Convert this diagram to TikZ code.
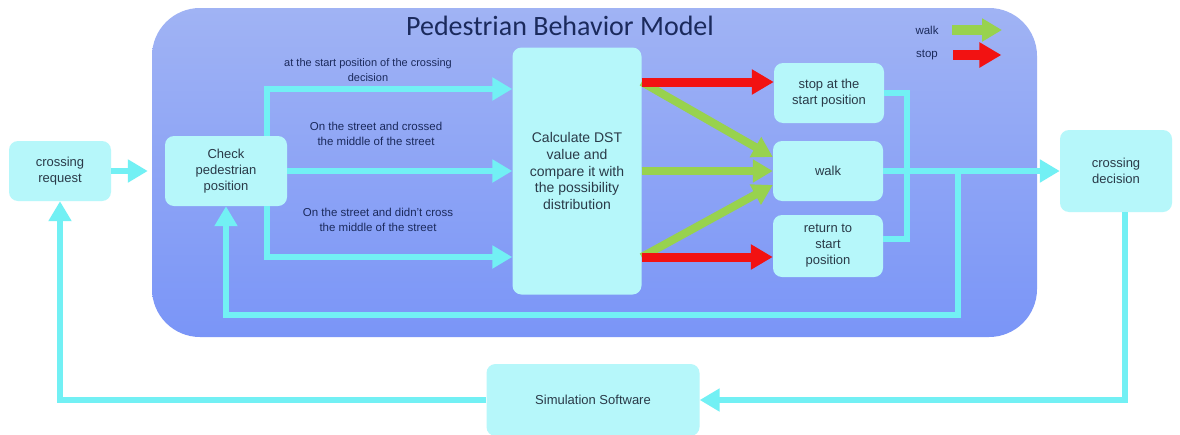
\documentclass[tikz,border=0pt]{standalone}
\usepackage{fontspec}
\setmainfont{Liberation Sans}
\newfontfamily\titlefont{Carlito}
\usepackage{tikz}
\usetikzlibrary{arrows.meta,positioning}
\definecolor{PBMcyan}{HTML}{B6F7FA}
\definecolor{PBMline}{HTML}{72F0F4}
\definecolor{PBMtop}{HTML}{A0B3F4}
\definecolor{PBMbottom}{HTML}{7A95F7}
\definecolor{PBMgreen}{HTML}{98D24E}
\definecolor{PBMred}{HTML}{F21212}
\definecolor{PBMnavy}{HTML}{1B2A5C}
\definecolor{PBMtext}{HTML}{2A3A48}

\begin{document}
\begin{tikzpicture}[x=1pt,y=-1pt,
    block/.style={rectangle,fill=PBMcyan,rounded corners=9pt,align=center,
                  text=PBMtext,font=\fontsize{13}{16}\selectfont,inner sep=2pt},
    arr/.style={PBMline,line width=6pt,-{Triangle[width=22pt,length=20pt]}},
    cline/.style={PBMline,line width=6pt},
    walkarr/.style={PBMgreen,line width=8pt,-{Triangle[width=22pt,length=20pt]}},
    stoparr/.style={PBMred,line width=9pt,-{Triangle[width=24pt,length=22pt]}},
    lbl/.style={align=center,text=PBMnavy,font=\fontsize{11.5}{15}\selectfont},
  ]
  \path[use as bounding box,fill=white] (0,0) rectangle (1180,434);

  \node[rectangle,rounded corners=48pt,top color=PBMtop,bottom color=PBMbottom,
        minimum width=885pt,minimum height=329pt] (model) at (594.5,172.5) {};
  \node[font=\titlefont\fontsize{28}{32}\selectfont,text=PBMnavy] (title) at (560,26)
        {Pedestrian Behavior Model};

  \node[block,minimum width=102pt,minimum height=60pt] (req)  at (60,171)
        {crossing\\request};
  \node[block,minimum width=122pt,minimum height=70pt] (chk)  at (226,171)
        {Check\\pedestrian\\position};
  \node[block,minimum width=129pt,minimum height=247pt,
        font=\fontsize{14}{16.7}\selectfont] (calc) at (577,171)
        {Calculate DST\\value and\\compare it with\\the possibility\\distribution};
  \node[block,minimum width=110pt,minimum height=60pt] (stopbox) at (829,93)
        {stop at the\\start position};
  \node[block,minimum width=110pt,minimum height=60pt] (walkbox) at (828,171) {walk};
  \node[block,minimum width=110pt,minimum height=62pt] (retbox)  at (828,246)
        {return to\\start\\position};
  \node[block,minimum width=112pt,minimum height=82pt] (dec)  at (1116,171)
        {crossing\\decision};
  \node[block,minimum width=213pt,minimum height=72pt] (sim)  at (593,400)
        {Simulation Software};

  % paths out of the position check
  \draw[arr,shorten >=4pt] (req.east) -- (model.west |- req.east);
  \draw[arr] ([xshift=41pt]chk.north) |- ([yshift=82pt]calc.west);
  \draw[arr] (chk) -- (calc);
  \draw[arr] ([xshift=41pt]chk.south) |- ([yshift=-86pt]calc.west);

  \node[lbl,font=\fontsize{11}{15}\selectfont] (lbltop) at (368,70)
        {at the start position of the crossing\\decision};
  \node[lbl] (lblmid) at (376,134)
        {On the street and crossed\\the middle of the street};
  \node[lbl] (lblbot) at (378,220)
        {On the street and didn't cross\\the middle of the street};

  % walk / stop decisions
  \draw[walkarr] ([yshift=89pt]calc.east) -- ([yshift=14pt]walkbox.west);
  \draw[walkarr] (calc) -- (walkbox);
  \draw[walkarr] ([yshift=-86pt]calc.east) -- ([yshift=-14pt]walkbox.west);
  \draw[stoparr] ([yshift=89pt]calc.east) -- ([yshift=11pt]stopbox.west);
  \draw[stoparr] ([yshift=-86pt]calc.east) -- ([yshift=-11pt]retbox.west);

  \draw[cline] (stopbox.east) -| ([xshift=24pt,yshift=7pt]retbox.east)
               -- ([yshift=7pt]retbox.east);
  \draw[arr] (walkbox) -- (dec);

  % feedback loops
  \coordinate (fbtop) at (958,171);
  \coordinate (fbbot) at (958,315);
  \draw[arr] (fbtop) -- (fbbot) -| (chk.south);
  \draw[arr] ([xshift=9pt]dec.south) |- (sim.east);
  \draw[arr] (sim.west) -| (req.south);

  % legend
  \node[lbl] (walklg) at (927,30) {walk};
  \node[lbl] (stoplg) at (927,55) {stop};
  \draw[walkarr,line width=10pt,shorten <=10pt] (walklg.east) -- ++(60pt,0);
  \draw[stoparr,line width=10pt,shorten <=12pt] (stoplg.east) -- ++(60pt,0);
\end{tikzpicture}
\end{document}
